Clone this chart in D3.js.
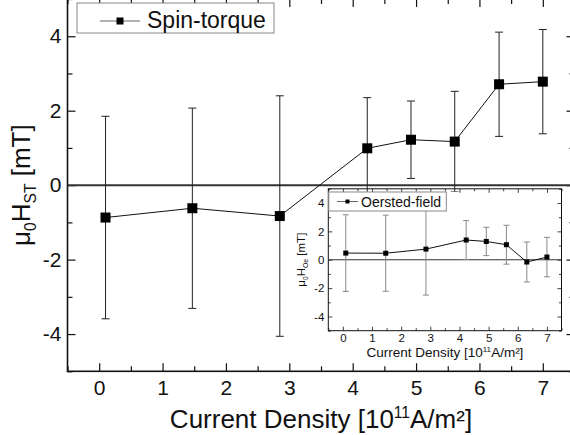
<!DOCTYPE html>
<html>
<head>
<meta charset="utf-8">
<script src="https://cdn.jsdelivr.net/npm/d3@7"></script>
<style>
  body { margin: 0; background: #fff; }
  svg { display: block; font-family: "Liberation Sans", Arial, sans-serif; }
</style>
</head>
<body>
<svg id="chart" width="570" height="435"></svg>
<script>
// current density (10^11 A/m²)
const currentDensity = [0.1, 1.47, 2.85, 4.23, 4.92, 5.61, 6.31, 7.0];
// spin-torque field and its error (mT)
const spinTorque = [-0.87, -0.62, -0.83, 0.99, 1.22, 1.17, 2.71, 2.78];
const spinTorqueErr = [2.72, 2.69, 3.23, 1.36, 1.04, 1.35, 1.40, 1.40];
// Oersted field and its error (mT), inset
const oersted = [0.47, 0.46, 0.75, 1.39, 1.29, 1.06, -0.16, 0.19];
const oerstedErr = [2.70, 2.68, 3.24, 1.37, 1.00, 1.37, 1.41, 1.39];

const xTicks = [0, 1, 2, 3, 4, 5, 6, 7];
const xMinor = [-0.5, 0.5, 1.5, 2.5, 3.5, 4.5, 5.5, 6.5, 7.5];
const yTicks = [-4, -2, 0, 2, 4];
const yMinor = [-5, -3, -1, 1, 3, 5];

const svg = d3.select('#chart');

// draws one framed plot (main or inset)
const panel = (g, o) => {
    const x = d3.scaleLinear().domain([-0.5, 7.5]).range([o.x0, o.x1]);
    const y = d3.scaleLinear().domain([-5, 5]).range([o.y1, o.y0]);

    if (o.fill) {
        g.append('rect')
            .attr('x', o.x0).attr('y', o.y0 + o.fillGap)
            .attr('width', o.x1 - o.x0).attr('height', o.y1 - o.y0 - o.fillGap)
            .attr('fill', '#fff');
    }

    const axis = (gen, tr, vals, size, pad, labels) => {
        const a = g.append('g')
            .attr('transform', tr)
            .call(gen.tickValues(vals).tickSize(-size).tickPadding(pad)
                .tickFormat(labels ? (d => String(d)) : ''));
        a.select('.domain').remove();
        a.selectAll('line').attr('stroke', '#111').attr('stroke-width', o.tickW);
        a.selectAll('text').attr('fill', '#111').attr('font-size', o.tickFont);
        return a;
    };

    axis(d3.axisBottom(x), `translate(0,${o.y1})`, xTicks, o.major, o.xPad, true);
    axis(d3.axisBottom(x), `translate(0,${o.y1})`, xMinor, o.minor, 0, false);
    axis(d3.axisTop(x), `translate(0,${o.y0})`, xTicks, o.major, 0, false);
    axis(d3.axisTop(x), `translate(0,${o.y0})`, xMinor, o.minor, 0, false);
    axis(d3.axisLeft(y), `translate(${o.x0},0)`, yTicks, o.major, o.yPad, true);
    axis(d3.axisLeft(y), `translate(${o.x0},0)`, yMinor, o.minor, 0, false);
    axis(d3.axisRight(y), `translate(${o.x1},0)`, yTicks, o.major, 0, false);
    axis(d3.axisRight(y), `translate(${o.x1},0)`, yMinor, o.minor, 0, false);

    g.append('rect')
        .attr('x', o.x0).attr('y', o.y0)
        .attr('width', o.x1 - o.x0).attr('height', o.y1 - o.y0)
        .attr('fill', 'none').attr('stroke', '#111').attr('stroke-width', o.frameW);

    // zero line
    g.append('line')
        .attr('x1', o.x0).attr('x2', o.x1)
        .attr('y1', y(0)).attr('y2', y(0))
        .attr('stroke', '#333').attr('stroke-width', o.zeroW);

    const pts = currentDensity.map((d, i) => ({ x: d, v: o.values[i], e: o.errors[i] }));

    // error bars
    const eb = g.append('g').attr('stroke', o.errColor).attr('stroke-width', 1);
    eb.selectAll('.bar').data(pts).enter().append('line')
        .attr('x1', d => x(d.x)).attr('x2', d => x(d.x))
        .attr('y1', d => y(d.v - d.e)).attr('y2', d => y(d.v + d.e));
    [-1, 1].forEach(s => {
        eb.selectAll(null).data(pts).enter().append('line')
            .attr('x1', d => x(d.x) - o.cap).attr('x2', d => x(d.x) + o.cap)
            .attr('y1', d => y(d.v + s * d.e)).attr('y2', d => y(d.v + s * d.e));
    });

    g.append('path')
        .datum(pts)
        .attr('d', d3.line().x(d => x(d.x)).y(d => y(d.v)))
        .attr('fill', 'none').attr('stroke', '#111').attr('stroke-width', 1);

    g.selectAll('.pt').data(pts).enter().append('rect')
        .attr('x', d => x(d.x) - o.sq / 2).attr('y', d => y(d.v) - o.sq / 2)
        .attr('width', o.sq).attr('height', o.sq)
        .attr('fill', '#000');

    // legend
    const lg = g.append('g');
    lg.append('rect')
        .attr('x', o.leg.x).attr('y', o.leg.y).attr('width', o.leg.w).attr('height', o.leg.h)
        .attr('fill', '#fff').attr('stroke', '#888').attr('stroke-width', 1);
    lg.append('line')
        .attr('x1', o.leg.l0).attr('x2', o.leg.l1).attr('y1', o.leg.ly).attr('y2', o.leg.ly)
        .attr('stroke', '#666').attr('stroke-width', 1);
    lg.append('rect')
        .attr('x', (o.leg.l0 + o.leg.l1) / 2 - o.leg.sq / 2).attr('y', o.leg.ly - o.leg.sq / 2)
        .attr('width', o.leg.sq).attr('height', o.leg.sq).attr('fill', '#000');
    lg.append('text')
        .attr('x', o.leg.tx).attr('y', o.leg.ty)
        .attr('font-size', o.leg.font).attr('fill', '#111')
        .text(o.leg.label);

    // x title
    const xt = g.append('text')
        .attr('x', (o.x0 + o.x1) / 2).attr('y', o.xTitleY)
        .attr('text-anchor', 'middle').attr('font-size', o.xTitleFont).attr('fill', '#111');
    xt.append('tspan').text('Current Density [10');
    xt.append('tspan').attr('font-size', o.xTitleFont * 0.6).attr('dy', -o.xTitleFont * 0.38).text('11');
    xt.append('tspan').attr('dy', o.xTitleFont * 0.38).text('A/m²]');

    // y title
    const f = o.yTitleFont;
    const yt = g.append('text')
        .attr('transform', `translate(${o.yTitleX},${(o.y0 + o.y1) / 2}) rotate(-90)`)
        .attr('text-anchor', 'middle').attr('font-size', f).attr('fill', '#111');
    yt.append('tspan').text('μ');
    yt.append('tspan').attr('font-size', f * 0.6).attr('dy', f * 0.22).text('0');
    yt.append('tspan').attr('dy', -f * 0.22).text('H');
    yt.append('tspan').attr('font-size', f * 0.6).attr('dy', f * 0.22).text(o.sub);
    yt.append('tspan').attr('dy', -f * 0.22).text(' [mT]');
};

panel(svg.append('g'), {
    x0: 67.5, x1: 574.5, y0: -1, y1: 371.3,
    values: spinTorque, errors: spinTorqueErr,
    major: 8, minor: 5, tickW: 1.2, frameW: 1.6, zeroW: 2,
    tickFont: 21, xPad: 9, yPad: 6,
    errColor: '#222', cap: 4, sq: 10,
    leg: { x: 77, y: 3, w: 197, h: 30, l0: 100, l1: 140, ly: 21, sq: 7, tx: 147, ty: 28, font: 23, label: 'Spin-torque' },
    xTitleY: 428, xTitleFont: 26,
    yTitleX: 30, yTitleFont: 26, sub: 'ST'
});

panel(svg.append('g'), {
    x0: 328.3, x1: 561.5, y0: 188.8, y1: 330.7,
    values: oersted, errors: oerstedErr,
    fill: true, fillGap: 3,
    major: 4, minor: 2.5, tickW: 0.8, frameW: 1, zeroW: 1,
    tickFont: 11.5, xPad: 3, yPad: 4,
    errColor: '#888', cap: 3, sq: 5,
    leg: { x: 328.8, y: 192, w: 117.5, h: 19, l0: 337, l1: 358, ly: 201.5, sq: 4, tx: 361, ty: 206.5, font: 14, label: 'Oersted-field' },
    xTitleY: 357, xTitleFont: 13.5,
    yTitleX: 305, yTitleFont: 11.5, sub: 'Oe'
});
</script>
</body>
</html>
